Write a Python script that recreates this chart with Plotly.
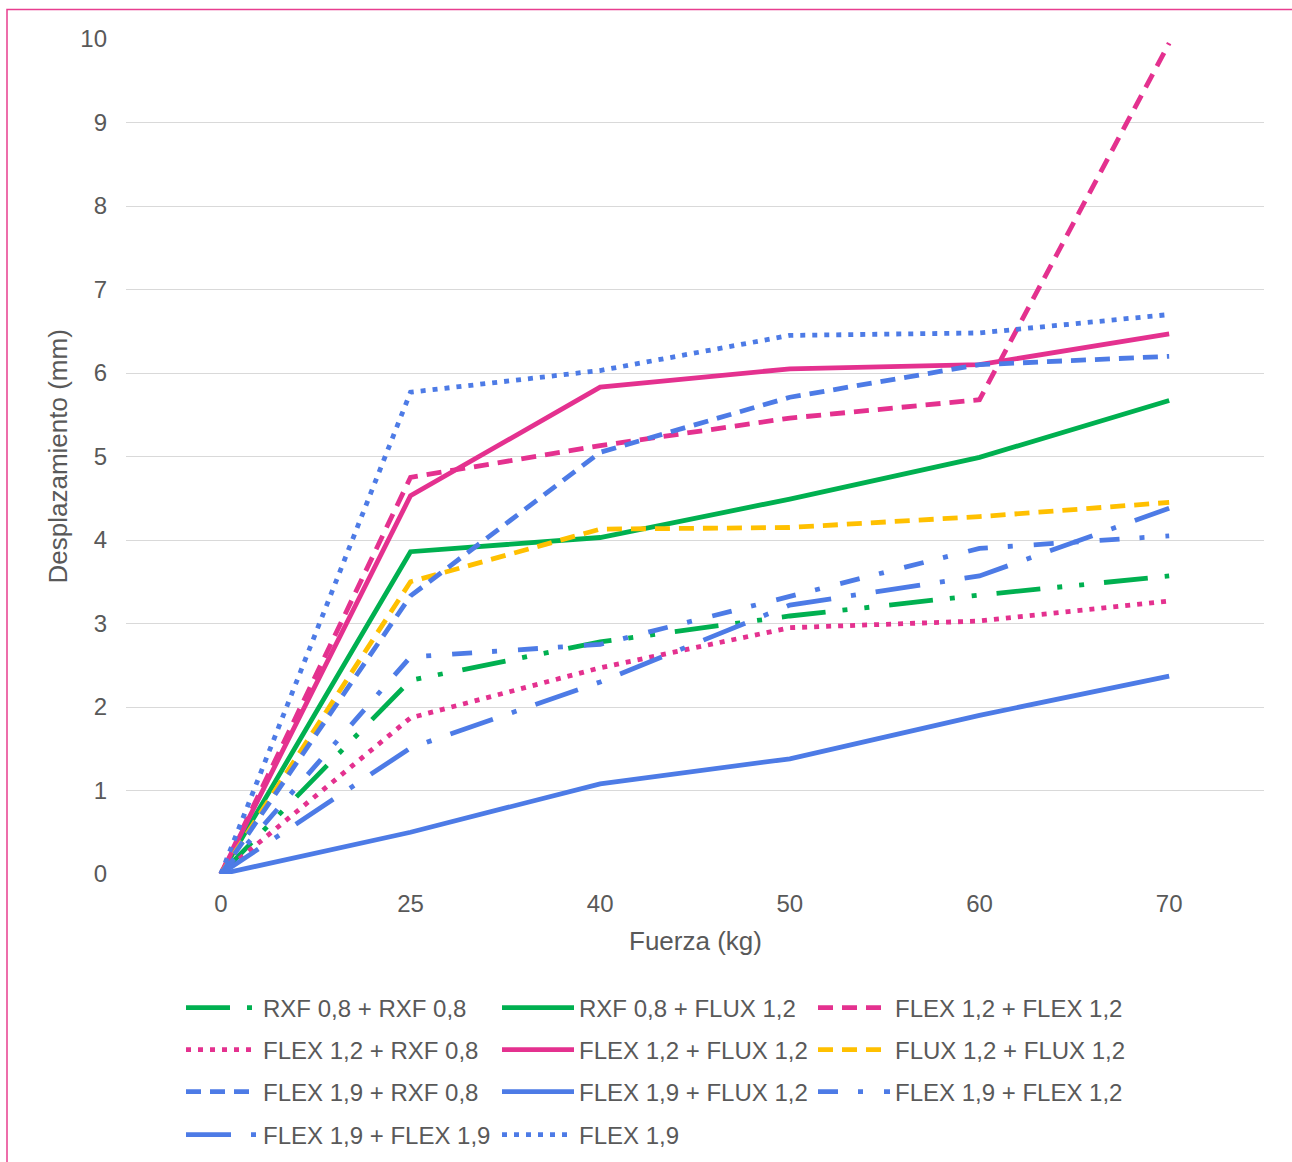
import plotly.graph_objects as go

# ---- data ----
fuerza = ["0", "25", "40", "50", "60", "70"]
y_ticks = [0, 1, 2, 3, 4, 5, 6, 7, 8, 9, 10]

rxf08_rxf08   = [0, 2.32, 2.78, 3.09, 3.34, 3.57]
rxf08_flux12  = [0, 3.86, 4.03, 4.49, 4.99, 5.67]
flex12_flex12 = [0, 4.75, 5.13, 5.46, 5.68, 9.95]
flex12_rxf08  = [0, 1.87, 2.47, 2.95, 3.03, 3.27]
flex12_flux12 = [0, 4.53, 5.83, 6.05, 6.10, 6.47]
flux12_flux12 = [0, 3.50, 4.13, 4.15, 4.28, 4.45]
flex19_rxf08  = [0, 3.33, 5.05, 5.71, 6.10, 6.20]
flex19_flux12 = [0, 0.50, 1.08, 1.38, 1.90, 2.37]
flex19_flex12 = [0, 2.60, 2.75, 3.33, 3.90, 4.05]
flex19_flex19 = [0, 1.51, 2.30, 3.22, 3.57, 4.38]
flex19        = [0, 5.77, 6.03, 6.45, 6.48, 6.70]

names = ["RXF 0,8 + RXF 0,8", "RXF 0,8 + FLUX 1,2", "FLEX 1,2 + FLEX 1,2",
         "FLEX 1,2 + RXF 0,8", "FLEX 1,2 + FLUX 1,2", "FLUX 1,2 + FLUX 1,2",
         "FLEX 1,9 + RXF 0,8", "FLEX 1,9 + FLUX 1,2", "FLEX 1,9 + FLEX 1,2",
         "FLEX 1,9 + FLEX 1,9", "FLEX 1,9"]
series = [rxf08_rxf08, rxf08_flux12, flex12_flex12, flex12_rxf08, flex12_flux12,
          flux12_flux12, flex19_rxf08, flex19_flux12, flex19_flex12, flex19_flex19, flex19]

# ---- styles ----
GREEN = "#00B050"
PINK = "#E4318F"
YELLOW = "#FFC000"
BLUE = "#4D7BE6"
TXT = "#595959"
FONT = "Liberation Sans, Arial"

DOT = "5px,7px"
DASH = "15px,9px"
LGDASHDOTDOT = "44px,17px,5px,17px,5px,20px"
LGDASHDOT = "45px,20px,5px,20px"
DASHDOT = "20px,20px,5px,21px"

styles = [
    (GREEN, LGDASHDOTDOT), (GREEN, "solid"), (PINK, DASH),
    (PINK, DOT), (PINK, "solid"), (YELLOW, DASH),
    (BLUE, DASH), (BLUE, "solid"), (BLUE, DASHDOT),
    (BLUE, LGDASHDOT), (BLUE, DOT),
]

W, H = 1292, 1162
L, R, T, B = 126, 28, 39, 288
PW, PH = W - L - R, H - T - B


def px_x(p):
    return (p - L) / PW


def px_y(p):
    return (H - B - p) / PH


legend_ids = ["legend", "legend2", "legend3", "legend4"]

fig = go.Figure()
for i, (nm, ys) in enumerate(zip(names, series)):
    col, dash = styles[i]
    fig.add_trace(go.Scatter(
        x=fuerza, y=ys, name=nm, mode="lines",
        line=dict(color=col, width=4.8, dash=dash),
        legend=legend_ids[i // 3],
    ))

row_centers = [1008, 1050, 1092, 1135]
leg_common = dict(
    orientation="h", xanchor="left", yanchor="middle",
    entrywidth=229, entrywidthmode="pixels", itemwidth=72,
    font=dict(family=FONT, size=24, color=TXT),
    bgcolor="rgba(0,0,0,0)", borderwidth=0, traceorder="normal",
)
legend_layout = {}
for k, lid in enumerate(legend_ids):
    legend_layout[lid] = dict(x=px_x(181), y=px_y(row_centers[k]), **leg_common)

fig.update_layout(
    width=W, height=H, autosize=False,
    margin=dict(l=L, r=R, t=T, b=B, autoexpand=False),
    paper_bgcolor="white", plot_bgcolor="white",
    font=dict(family=FONT, size=24, color=TXT),
    showlegend=True,
    xaxis=dict(type="category", categoryorder="array", categoryarray=fuerza,
               range=[-0.5, 5.5], showgrid=False, zeroline=False, showline=False,
               ticks="", ticklabelstandoff=13,
               tickfont=dict(family=FONT, size=24, color=TXT)),
    yaxis=dict(range=[0, 10], tickvals=y_ticks, showgrid=True, gridcolor="#D9D9D9",
               gridwidth=1.2, zeroline=False, showline=False, ticks="",
               ticklabelstandoff=18, tickfont=dict(family=FONT, size=24, color=TXT)),
    annotations=[
        dict(text="Desplazamiento (mm)", xref="paper", yref="paper",
             x=px_x(57), y=0.5, textangle=-90, showarrow=False,
             xanchor="center", yanchor="middle",
             font=dict(family=FONT, size=26, color=TXT)),
        dict(text="Fuerza (kg)", xref="paper", yref="paper",
             x=0.5, y=px_y(941), showarrow=False,
             xanchor="center", yanchor="middle",
             font=dict(family=FONT, size=26, color=TXT)),
    ],
    shapes=[dict(type="rect", xref="paper", yref="paper",
                 x0=px_x(7), x1=px_x(W + 40), y0=px_y(H + 40), y1=px_y(9.5),
                 line=dict(color="#E83E8F", width=1.5), fillcolor="rgba(0,0,0,0)",
                 layer="below")],
    **legend_layout,
)

fig.write_html("out.html")
